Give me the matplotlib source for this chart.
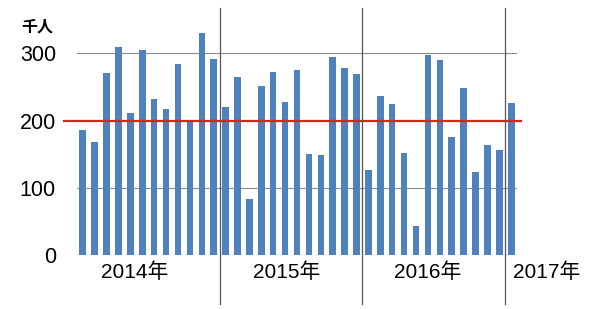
import matplotlib
matplotlib.use("Agg")
import matplotlib.pyplot as plt
import numpy as np

plt.rcParams['font.family'] = ['Liberation Sans', 'Noto Sans CJK JP', 'DejaVu Sans']

# monthly values, Jan 2014 .. Jan 2017 (thousand people)
values_2014 = [186, 168, 271, 309, 212, 305, 232, 218, 285, 201, 330, 292]
values_2015 = [220, 265, 84, 251, 273, 228, 276, 150, 149, 294, 279, 270]
values_2016 = [126, 237, 225, 152, 44, 297, 290, 176, 248, 124, 164, 156]
values_2017 = [226]
year_labels = ["2014年", "2015年", "2016年", "2017年"]
label_offsets = [4.4, 5.1, 4.95, 2.95]
y_ticks = [0, 100, 200, 300]
reference_level = 200

values = values_2014 + values_2015 + values_2016 + values_2017
year_lengths = [len(values_2014), len(values_2015), len(values_2016), len(values_2017)]
x = np.arange(len(values))

fig = plt.figure(figsize=(6, 3.09), dpi=100)
ax = fig.add_axes([0.128, 0.174, 0.734, 0.762])

ax.bar(x, values, width=0.55, color="#4F81BD", zorder=2)
ax.set_xlim(-0.5, len(values) - 0.5)
ax.set_ylim(0, 350)

for t in y_ticks:
    ax.axhline(t, color="#8c8c8c", lw=0.8, zorder=1)

ax.plot([-1.6, len(values) - 0.2], [reference_level, reference_level],
        color="#E0201B", lw=1.6, zorder=3, clip_on=False)

starts = np.cumsum([0] + year_lengths[:-1])
for s in starts[1:]:
    ax.plot([s - 0.5, s - 0.5], [-72, 368], color="#555555", lw=0.9,
            zorder=4, clip_on=False)

for s, lab, off in zip(starts, year_labels, label_offsets):
    ax.text(s + off, -10, lab, ha="center", va="top", fontsize=15)

ax.set_yticks(y_ticks)
ax.set_yticklabels([str(t) for t in y_ticks], fontsize=15.5)
ax.tick_params(axis="y", length=0, pad=15)
ax.set_xticks([])
for sp in ax.spines.values():
    sp.set_visible(False)

fig.text(0.035, 0.915, "千人", fontsize=11.5, fontweight="bold",
         family=["Noto Sans CJK JP"], va="center")

fig.savefig("out.png", dpi=100)
